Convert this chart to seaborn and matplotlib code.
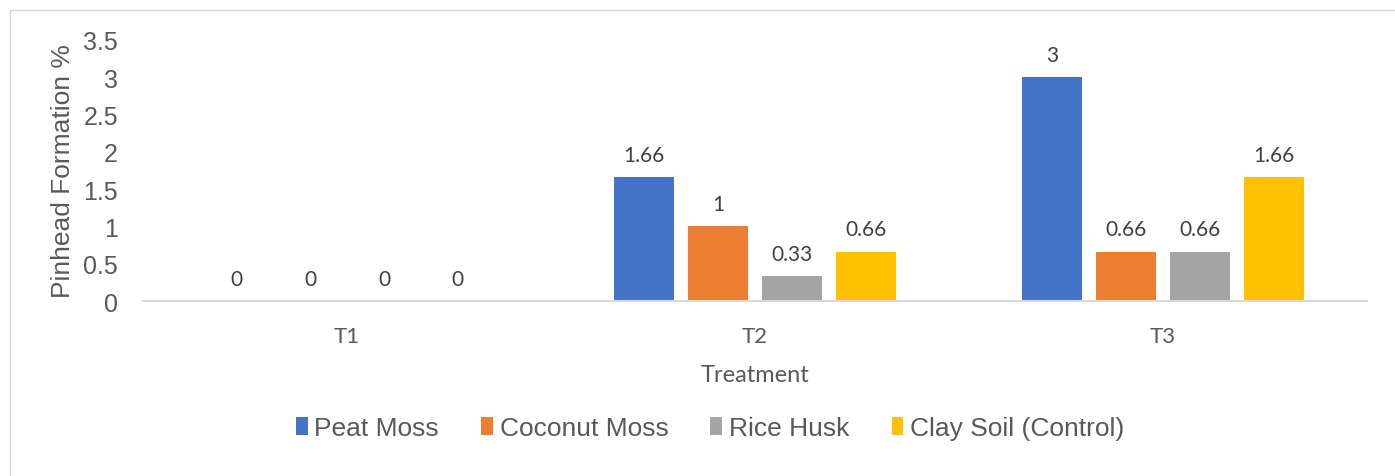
import pandas as pd
import matplotlib.pyplot as plt
from matplotlib.lines import Line2D
import seaborn as sns

# data
treatments = ["T1", "T2", "T3"]
media = ["Peat Moss", "Coconut Moss", "Rice Husk", "Clay Soil (Control)"]
peat_moss = [0, 1.66, 3]
coconut_moss = [0, 1, 0.66]
rice_husk = [0, 0.33, 0.66]
clay_soil = [0, 0.66, 1.66]
colors = ["#4472C4", "#ED7D31", "#A5A5A5", "#FFC000"]

rows = []
for name, vals in zip(media, [peat_moss, coconut_moss, rice_husk, clay_soil]):
    for t, v in zip(treatments, vals):
        rows.append({"Treatment": t, "Medium": name, "Pinhead": v})
df = pd.DataFrame(rows)

sns.set_theme(style="white")
plt.rcParams['font.family'] = ['Liberation Sans', 'DejaVu Sans']
calibri_like = ['Lato', 'DejaVu Sans']

fig = plt.figure(figsize=(13.95, 4.77), dpi=100)
ax = fig.add_axes([143 / 1395, 1 - 302 / 477, (1367 - 143) / 1395, (302 - 40.7) / 477])

sns.barplot(data=df, x="Treatment", y="Pinhead", hue="Medium", hue_order=media,
            order=treatments, palette=colors, width=0.725, gap=0.2,
            linewidth=0, saturation=1, ax=ax, legend=True)

# value labels above each bar
for cont in ax.containers:
    ax.bar_label(cont, fmt='%g', padding=9, fontsize=15, color="#404040",
                 family=calibri_like)

ax.set_xlim(-0.5, 2.5)
ax.set_ylim(0, 3.5)
ax.set_yticks([0, 0.5, 1, 1.5, 2, 2.5, 3, 3.5])
ax.set_yticklabels(["0", "0.5", "1", "1.5", "2", "2.5", "3", "3.5"])
ax.tick_params(axis='y', length=0, pad=18, labelsize=18, labelcolor="#595959")
ax.tick_params(axis='x', length=0, pad=18, labelsize=16, labelcolor="#595959")
for lbl in ax.get_xticklabels():
    lbl.set_family(calibri_like)

for s in ["top", "right", "left"]:
    ax.spines[s].set_visible(False)
ax.spines["bottom"].set_color("#D9D9D9")
ax.spines["bottom"].set_linewidth(1.5)

ax.set_xlabel("Treatment", fontsize=17, color="#595959", labelpad=13,
              family=calibri_like)
ax.set_ylabel("Pinhead Formation %", fontsize=19, color="#595959", labelpad=6)

handles, labels = ax.get_legend_handles_labels()
ax.get_legend().remove()
fig.legend(handles, labels, loc="center", bbox_to_anchor=(710 / 1395, 1 - 429 / 477),
           ncol=4, frameon=False, handlelength=0.45, handleheight=0.7,
           handletextpad=0.25, columnspacing=1.6,
           prop={'family': ['Liberation Sans', 'DejaVu Sans'], 'size': 19},
           labelcolor="#595959")

# chart area border (left and top edges visible)
fig.add_artist(Line2D([10 / 1395, 10 / 1395], [0, 1 - 11 / 477],
                      transform=fig.transFigure, color="#D9D9D9", lw=1))
fig.add_artist(Line2D([10 / 1395, 1], [1 - 11 / 477, 1 - 11 / 477],
                      transform=fig.transFigure, color="#D9D9D9", lw=1))

fig.savefig("out.png", dpi=100)
